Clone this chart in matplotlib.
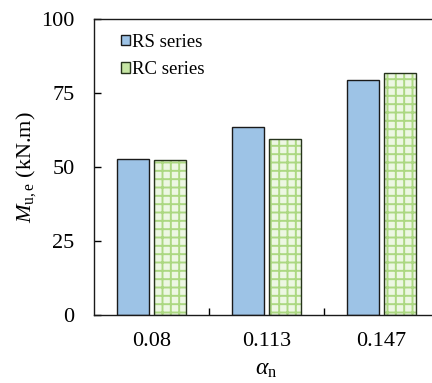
import matplotlib
matplotlib.use("Agg")
import matplotlib.pyplot as plt
import numpy as np
from matplotlib.patches import Patch

plt.rcParams['font.family'] = ['Liberation Serif', 'DejaVu Serif']
plt.rcParams['mathtext.fontset'] = 'custom'
plt.rcParams['mathtext.rm'] = 'Liberation Serif'
plt.rcParams['mathtext.it'] = 'Liberation Serif:italic'
plt.rcParams['hatch.linewidth'] = 1.4

categories = ['0.08', '0.113', '0.147']
rs_values = [52.6, 63.5, 79.4]
rc_values = [52.4, 59.3, 81.6]
series_names = ['RS series', 'RC series']
y_ticks = [0, 25, 50, 75, 100]

fig = plt.figure(figsize=(4.32, 3.83), dpi=100)
ax = fig.add_axes([94 / 432, 1 - 315 / 383, 345 / 432, 296 / 383])

x = np.arange(len(categories))
w = 0.274
off = 0.162

ax.bar(x - off, rs_values, w, color='#9dc3e6', edgecolor='#1a1a1a',
       linewidth=1.0, zorder=2)
# patterned series: green lattice on a pale fill, then a dark outline on top
ax.bar(x + off, rc_values, w, color='#edf7e3', edgecolor='#acd882',
       linewidth=0, hatch='++', zorder=2)
ax.bar(x + off, rc_values, w, fill=False, edgecolor='#26331c',
       linewidth=1.0, zorder=3)

# legend proxies
h_rs = Patch(facecolor='#9dc3e6', edgecolor='#1a1a1a', linewidth=1.0)
h_rc = Patch(facecolor='#c6e6a4', edgecolor='#26331c', linewidth=1.0)

ax.set_xlim(-0.5, 2.5)
ax.set_ylim(0, 100)
ax.set_yticks(y_ticks)
ax.set_xticks(x)
ax.set_xticklabels(categories)
ax.set_xticks([0.5, 1.5], minor=True)
ax.tick_params(axis='x', which='major', length=0, labelsize=16, pad=12)
ax.tick_params(axis='x', which='minor', direction='in', length=5, width=1)
ax.tick_params(axis='y', direction='in', length=5, width=1, labelsize=16, pad=14)

for s in ['top', 'left', 'bottom']:
    ax.spines[s].set_linewidth(1.0)
    ax.spines[s].set_color('#1a1a1a')
ax.spines['right'].set_visible(False)

ax.set_ylabel(r'$M_{\mathrm{u,e}}$ (kN.m)', fontsize=16, labelpad=2)
ax.set_xlabel(r'$\alpha_{\mathrm{n}}$', fontsize=17, labelpad=6)

ax.legend([h_rs, h_rc], series_names, loc='upper left',
          bbox_to_anchor=(0.077, 0.95), frameon=False,
          fontsize=13.5, handlelength=0.5, handleheight=0.5,
          handletextpad=0.1, labelspacing=0.55, borderaxespad=0,
          borderpad=0)

fig.savefig('out.png', dpi=100)
